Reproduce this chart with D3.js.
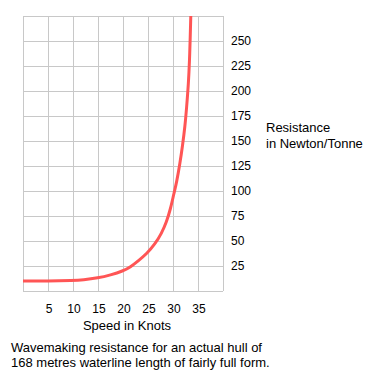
<!DOCTYPE html>
<html>
<head>
<meta charset="utf-8">
<script src="https://cdn.jsdelivr.net/npm/d3@7"></script>
<style>
  body { margin: 0; background: #fff; }
  text { font-family: "Liberation Sans", Arial, sans-serif; font-size: 12px; fill: #000; }
  .title { font-size: 13px; }
</style>
</head>
<body>
<svg width="367" height="381"></svg>
<script>
// data: speed in knots, resistance in N/tonne
const speed =      [0, 5, 10, 12, 15, 17.5, 20, 21.5, 23, 24.7, 26.4, 27.7, 28.7, 29.5, 30.2, 30.7, 31.4, 31.9, 32.4, 32.7, 33.1, 33.3, 33.45, 33.55, 33.65];
const resistance = [10, 10, 10.5, 11, 13, 16, 20, 24, 30, 37, 47, 57.5, 69, 82, 98, 108, 128, 145, 165, 182, 208, 230, 254, 274, 290];
const xTicks = [5, 10, 15, 20, 25, 30, 35];
const yTicks = [25, 50, 75, 100, 125, 150, 175, 200, 225, 250];

let svg = d3.select("svg");
let margin = {top: 16, left: 23};
const w = 200, h = 275;

let xScale = d3.scaleLinear().domain([0, 40]).range([margin.left, margin.left + w]);
let yScale = d3.scaleLinear().domain([0, 275]).range([margin.top + h, margin.top]);

// grid
let grid = svg.append("g").attr("stroke", "#c8c8c8").attr("stroke-width", 1);
d3.range(0, 45, 5).forEach(v => {
  grid.append("line")
    .attr("x1", Math.round(xScale(v)) + 0.5).attr("x2", Math.round(xScale(v)) + 0.5)
    .attr("y1", margin.top).attr("y2", margin.top + h);
});
d3.range(0, 300, 25).forEach(v => {
  grid.append("line")
    .attr("x1", margin.left).attr("x2", margin.left + w)
    .attr("y1", Math.round(yScale(v)) + 0.5).attr("y2", Math.round(yScale(v)) + 0.5);
});

svg.append("clipPath").attr("id", "clip")
  .append("rect").attr("x", margin.left).attr("y", margin.top).attr("width", w + 1).attr("height", h);

let data = speed.map((s, i) => ({s: s, r: resistance[i]}));
let line = d3.line()
  .x(d => xScale(d.s))
  .y(d => yScale(d.r))
  .curve(d3.curveBasis);

svg.append("path")
  .datum(data)
  .attr("clip-path", "url(#clip)")
  .attr("d", line)
  .attr("fill", "none")
  .attr("stroke", "#ff5555")
  .attr("stroke-width", 3);

// tick labels
svg.append("g").selectAll("text").data(xTicks).join("text")
  .attr("x", d => xScale(d) + 1)
  .attr("y", 313)
  .attr("text-anchor", "middle")
  .text(d => d);

svg.append("g").selectAll("text").data(yTicks).join("text")
  .attr("x", 231)
  .attr("y", d => yScale(d) + 4)
  .text(d => d);

svg.append("text").attr("class", "title").attr("x", 127).attr("y", 330).attr("text-anchor", "middle").text("Speed in Knots");

svg.append("text").attr("class", "title").attr("x", 266).attr("y", 132).text("Resistance");
svg.append("text").attr("class", "title").attr("x", 266).attr("y", 148).text("in Newton/Tonne");

svg.append("text").attr("class", "title").attr("x", 11).attr("y", 352).text("Wavemaking resistance for an actual hull of");
svg.append("text").attr("class", "title").attr("x", 11).attr("y", 367).text("168 metres waterline length of fairly full form.");
</script>
</body>
</html>
